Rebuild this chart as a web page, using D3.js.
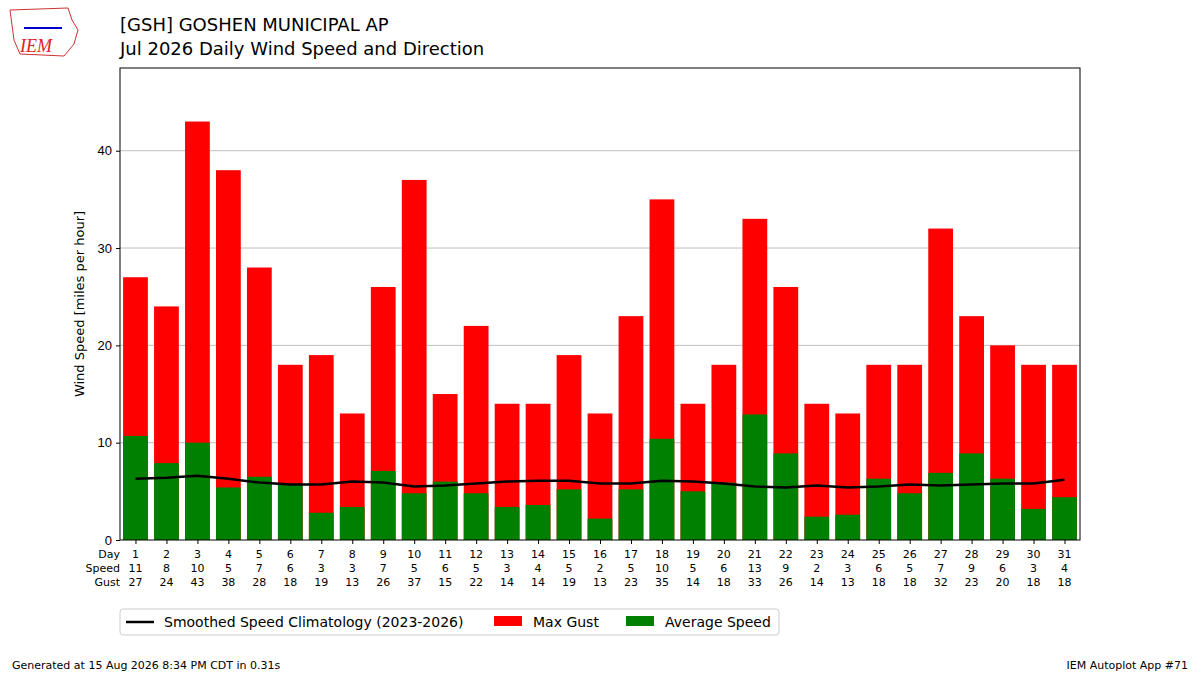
<!DOCTYPE html>
<html><head><meta charset="utf-8">
<script src="https://cdn.jsdelivr.net/npm/d3@7"></script>
<style>body{margin:0;background:#fff;font-family:"DejaVu Sans",sans-serif}</style>
</head><body><svg id="c" width="1200" height="675"></svg>
<script>
var days = d3.range(1, 32);
var avgSpeed = [10.7,7.9,10.0,5.4,6.5,5.8,2.8,3.4,7.1,4.8,6.0,4.8,3.4,3.6,5.2,2.2,5.2,10.4,5.0,5.9,12.9,8.9,2.4,2.6,6.3,4.8,6.9,8.9,6.3,3.2,4.4];
var maxGust = [27,24,43,38,28,18,19,13,26,37,15,22,14,14,19,13,23,35,14,18,33,26,14,13,18,18,32,23,20,18,18];
var climo = [6.3,6.4,6.6,6.3,5.9,5.7,5.7,6.0,5.9,5.5,5.6,5.8,6.0,6.1,6.1,5.8,5.8,6.1,6.0,5.8,5.5,5.4,5.6,5.4,5.5,5.7,5.6,5.7,5.8,5.8,6.2];
var yTicks = [0,10,20,30,40];

var svg = d3.select('#c');
var L = 120, R = 1080, T = 68, B = 540;
var x = d3.scaleLinear().domain([0.5, 31.5]).range([L, R]);
var y = d3.scaleLinear().domain([0, 48.5]).range([B, T]);
var bw = (x(2) - x(1)) * 0.8;

svg.append('g').selectAll('line').data(yTicks.slice(1)).enter().append('line')
  .attr('x1', L).attr('x2', R).attr('y1', y).attr('y2', y)
  .attr('stroke', '#b0b0b0').attr('stroke-width', 0.8);

svg.append('g').selectAll('rect').data(days).enter().append('rect')
  .attr('x', function(d){ return x(d) - bw/2; }).attr('width', bw)
  .attr('y', function(d, i){ return y(maxGust[i]); })
  .attr('height', function(d, i){ return B - y(maxGust[i]); })
  .attr('fill', '#ff0000');
svg.append('g').selectAll('rect').data(days).enter().append('rect')
  .attr('x', function(d){ return x(d) - bw/2; }).attr('width', bw)
  .attr('y', function(d, i){ return y(avgSpeed[i]); })
  .attr('height', function(d, i){ return B - y(avgSpeed[i]); })
  .attr('fill', '#008000');

svg.append('path').datum(days)
  .attr('d', d3.line().x(function(d){ return x(d); }).y(function(d, i){ return y(climo[i]); }))
  .attr('fill', 'none').attr('stroke', '#000').attr('stroke-width', 2.5);

svg.append('rect').attr('x', L).attr('y', T).attr('width', R - L).attr('height', B - T)
  .attr('fill', 'none').attr('stroke', '#000').attr('stroke-width', 1);

svg.append('g').attr('transform', 'translate(' + L + ',0)')
  .call(d3.axisLeft(y).tickValues(yTicks).tickSize(4).tickPadding(4))
  .call(function(g){ g.select('.domain').remove(); g.selectAll('text').attr('font-size', 13).attr('fill', '#000'); });
svg.append('g').attr('transform', 'translate(0,' + B + ')')
  .call(d3.axisBottom(x).tickValues(days).tickSize(4).tickFormat(''))
  .call(function(g){ g.select('.domain').remove(); });

svg.append('text').attr('transform', 'translate(84,' + ((T + B)/2) + ') rotate(-90)')
  .attr('text-anchor', 'middle').attr('font-size', 13).text('Wind Speed [miles per hour]');

// table below axis
var rows = [['Day', days, 558], ['Speed', avgSpeed.map(Math.round), 572], ['Gust', maxGust, 586]];
rows.forEach(function(r){
  svg.append('text').attr('x', L).attr('y', r[2]).attr('text-anchor', 'end').attr('font-size', 11).text(r[0]);
  svg.append('g').selectAll('text').data(r[1]).enter().append('text')
    .attr('x', function(d, i){ return x(days[i]); }).attr('y', r[2])
    .attr('text-anchor', 'middle').attr('font-size', 11).text(function(d){ return d; });
});

// titles
svg.append('text').attr('x', 120).attr('y', 31).attr('font-size', 18).text('[GSH] GOSHEN MUNICIPAL AP');
svg.append('text').attr('x', 120).attr('y', 55).attr('font-size', 18).text('Jul 2026 Daily Wind Speed and Direction');

// legend
var lg = svg.append('g').attr('transform', 'translate(120,609)');
lg.append('rect').attr('width', 659).attr('height', 26).attr('rx', 3).attr('fill', '#fff').attr('stroke', '#ccc');
lg.append('line').attr('x1', 6).attr('x2', 34).attr('y1', 13).attr('y2', 13).attr('stroke', '#000').attr('stroke-width', 2.5);
lg.append('text').attr('x', 44).attr('y', 18).attr('font-size', 14).text('Smoothed Speed Climatology (2023-2026)');
lg.append('rect').attr('x', 374).attr('y', 7).attr('width', 28).attr('height', 10).attr('fill', '#ff0000');
lg.append('text').attr('x', 413).attr('y', 18).attr('font-size', 14).text('Max Gust');
lg.append('rect').attr('x', 506).attr('y', 7).attr('width', 28).attr('height', 10).attr('fill', '#008000');
lg.append('text').attr('x', 545).attr('y', 18).attr('font-size', 14).text('Average Speed');

// footer
svg.append('text').attr('x', 12).attr('y', 669).attr('font-size', 11).text('Generated at 15 Aug 2026 8:34 PM CDT in 0.31s');
svg.append('text').attr('x', 1188).attr('y', 669).attr('text-anchor', 'end').attr('font-size', 11).text('IEM Autoplot App #71');

// logo
var lo = svg.append('g');
lo.append('path').attr('d', 'M10,10 L68,8 L72,20 L78,30 L74,44 L64,56 L20,54 L14,40 Z')
  .attr('fill', '#fff').attr('stroke', '#c33').attr('stroke-width', 1);
lo.append('line').attr('x1', 24).attr('x2', 62).attr('y1', 28).attr('y2', 28).attr('stroke', '#00c').attr('stroke-width', 2);
lo.append('text').attr('x', 20).attr('y', 52).attr('font-family', 'Liberation Serif,serif').attr('font-style', 'italic')
  .attr('font-size', 18).attr('fill', '#d22').text('IEM');
</script></body></html>
